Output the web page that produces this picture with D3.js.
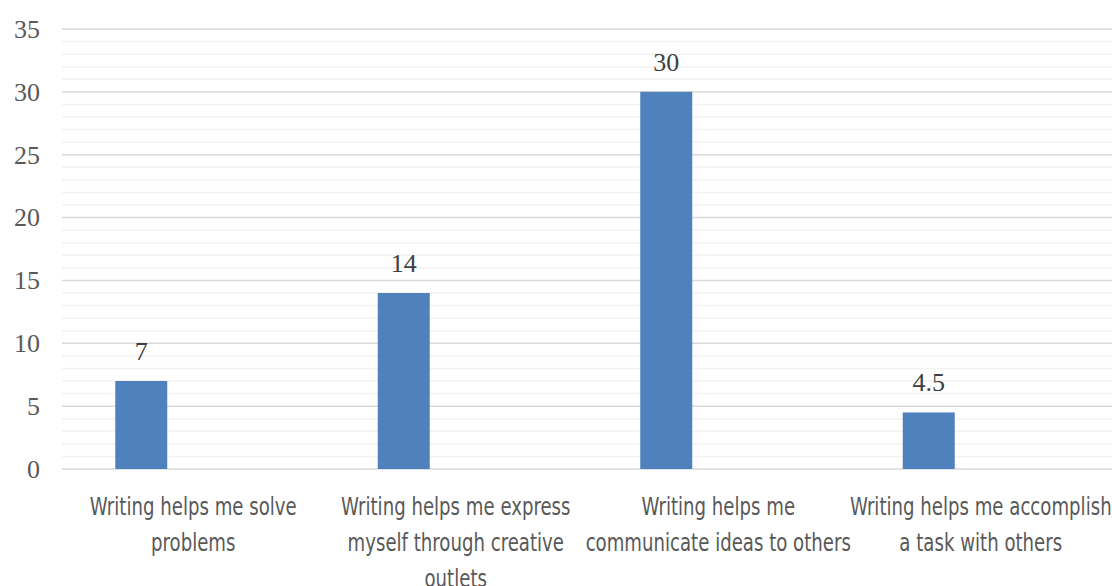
<!DOCTYPE html>
<html>
<head>
<meta charset="utf-8">
<script src="https://cdn.jsdelivr.net/npm/d3@7"></script>
<style>
  body { margin: 0; background: #fff; }
  svg { display: block; }
</style>
</head>
<body>
<svg id="chart"></svg>
<script>
// chart data
const categories = [
    ["Writing helps me solve", "problems"],
    ["Writing helps me express", "myself through creative", "outlets"],
    ["Writing helps me", "communicate ideas to others"],
    ["Writing helps me accomplish", "a task with others"]
];
const values = [7, 14, 30, 4.5];
const valueLabels = ["7", "14", "30", "4.5"];
const yTicks = [0, 5, 10, 15, 20, 25, 30, 35];

const W = 1112, H = 586;
const margin = { top: 29, right: 0, bottom: 117, left: 62 };
const width = W - margin.left - margin.right;
const height = H - margin.top - margin.bottom;

const svg = d3.select("#chart")
    .attr("width", W)
    .attr("height", H);

const chart = svg.append("g")
    .attr("transform", `translate(${margin.left},${margin.top})`);

// Scales
const x = d3.scaleBand()
    .domain(d3.range(categories.length))
    .range([0, width]);

const y = d3.scaleLinear()
    .domain([0, 35])
    .range([height, 0]);

// bar is the first of three slots in each group
const barW = 52;
const barX = i => x(i) + x.bandwidth() / 2 - 1.5 * barW;

// Minor gridlines
chart.append("g")
    .selectAll("line")
    .data(d3.range(0, 36, 1).filter(v => v % 5 !== 0))
    .enter()
    .append("line")
    .attr("x1", 0)
    .attr("x2", width)
    .attr("y1", d => y(d))
    .attr("y2", d => y(d))
    .attr("stroke", "#f2f2f2")
    .attr("stroke-width", 1.5);

// Major gridlines
chart.append("g")
    .selectAll("line")
    .data(yTicks)
    .enter()
    .append("line")
    .attr("x1", 0)
    .attr("x2", width)
    .attr("y1", d => y(d))
    .attr("y2", d => y(d))
    .attr("stroke", "#d9d9d9")
    .attr("stroke-width", 1.5);

// Y axis labels
const yAxis = chart.append("g")
    .call(d3.axisLeft(y).tickValues(yTicks).tickSize(0).tickPadding(22));
yAxis.select(".domain").remove();
yAxis.selectAll("text")
    .attr("font-family", "'Liberation Serif', 'Times New Roman', serif")
    .attr("font-size", 26)
    .attr("fill", "#595959");

// Bars
chart.selectAll(".bar")
    .data(values)
    .enter()
    .append("rect")
    .attr("class", "bar")
    .attr("x", (d, i) => barX(i))
    .attr("y", d => y(d))
    .attr("width", barW)
    .attr("height", d => height - y(d))
    .attr("fill", "#4f81bd");

// Value labels
chart.selectAll(".label")
    .data(values)
    .enter()
    .append("text")
    .attr("class", "label")
    .attr("x", (d, i) => barX(i) + barW / 2)
    .attr("y", d => y(d) - 21)
    .attr("text-anchor", "middle")
    .attr("font-family", "'Liberation Serif', 'Times New Roman', serif")
    .attr("font-size", 26)
    .attr("fill", "#404040")
    .text((d, i) => valueLabels[i]);

// Category labels (condensed look via horizontal scale)
const cat = chart.selectAll(".cat")
    .data(categories)
    .enter()
    .append("text")
    .attr("class", "cat")
    .attr("text-anchor", "middle")
    .attr("font-family", "'DejaVu Sans Condensed', 'DejaVu Sans', sans-serif")
    .attr("font-size", 24)
    .attr("fill", "#595959")
    .attr("transform", (d, i) => `translate(${x(i) + x.bandwidth() / 2},${height + 46}) scale(0.84,1)`);

cat.selectAll("tspan")
    .data(d => d)
    .enter()
    .append("tspan")
    .attr("x", 0)
    .attr("dy", (d, i) => i === 0 ? 0 : 36)
    .text(d => d);
</script>
</body>
</html>
